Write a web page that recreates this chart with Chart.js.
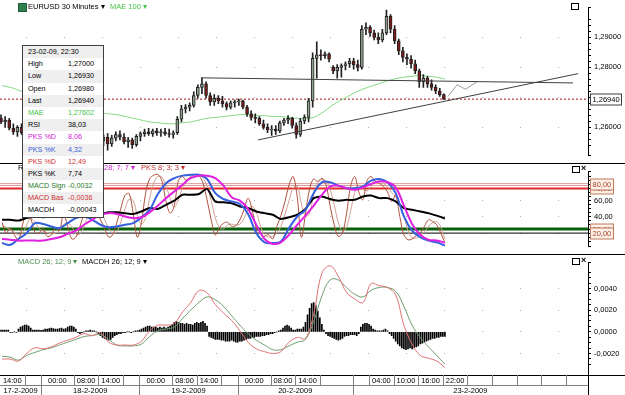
<!DOCTYPE html>
<html>
<head>
<meta charset="utf-8">
<title>EURUSD 30 Minutes</title>
<script src="https://cdn.jsdelivr.net/npm/chart.js@4.4.1/dist/chart.umd.min.js"></script>
<style>
  body { margin: 0; background: #fff; font-family: "Liberation Sans", Arial, sans-serif; font-size: 7.5px; color: #000; }
  #wrap { position: relative; width: 625px; height: 395px; overflow: hidden; }
  canvas { position: absolute; left: 0; }
  .lbl { position: absolute; white-space: nowrap; line-height: 10px; }
  .sep { position: absolute; left: 0; width: 625px; height: 1px; background: #000; }
  .box { position: absolute; width: 6px; height: 5px; border: 1px solid #000; background: #fff; }
  .x { position: absolute; font-size: 9px; line-height: 9px; font-weight: bold; }
  #info { position: absolute; left: 22px; top: 45px; width: 80px; border: 1px solid #404040; background: #fff; z-index: 5; font-size: 7.2px; }
  #info .row { height: 12.2px; line-height: 12.2px; padding-left: 5px; position: relative; white-space: nowrap; }
  #info .row:nth-child(odd) { background: #efefef; }
  #info .v { position: absolute; left: 45px; }
  #icon { position: absolute; left: 18px; top: 3px; width: 7px; height: 7px; background: #2f7f4f; border: 1px solid #1d5e35; }
</style>
</head>
<body>
<div id="wrap">
  <canvas id="c1" width="625" height="163" style="top:0"></canvas>
  <canvas id="c2" width="625" height="90" style="top:164px"></canvas>
  <canvas id="c3" width="625" height="140" style="top:255px"></canvas>

  <div class="sep" style="top:163px"></div>
  <div class="sep" style="top:254px"></div>

  <div id="icon"></div>
  <div class="lbl" style="left:28px;top:2px">EURUSD 30 Minutes &#9662;</div>
  <div class="lbl" style="left:110px;top:2px;color:#44c444">MAE 100 &#9662;</div>
  <div class="box" style="left:571px;top:3px"></div>

  <div class="lbl" style="left:18px;top:163px">RSI 14 &#9662;</div>
  <div class="lbl" style="left:104px;top:163px;color:#d020d0">28; 7; 7 &#9662;</div>
  <div class="lbl" style="left:141px;top:163px;color:#c03030">PKS 8; 3; 3 &#9662;</div>
  <div class="box" style="left:572px;top:166px"></div>
  <div class="x" style="left:581px;top:164px">&#215;</div>

  <div class="lbl" style="left:18px;top:257px;color:#4a8a4a">MACD 26; 12; 9 &#9662;</div>
  <div class="lbl" style="left:82px;top:257px">MACDH 26; 12; 9 &#9662;</div>
  <div class="box" style="left:572px;top:258px"></div>
  <div class="x" style="left:581px;top:256px">&#215;</div>

  <div id="info"></div>
</div>
<script>
const FONT = '"Liberation Sans", Arial, sans-serif';
const X_MAX = 286.8; // 588 px of plot, 2.05 px per 30 minute bar

// hourly candles from 17-2-2009 14:00 to 23-2-2009 22:00
const open = [
  1.2630, 1.2618, 1.2624, 1.2597, 1.2585, 1.2600, 1.2582, 1.2588, 1.2594, 1.2603,
  1.2591, 1.2579, 1.2585, 1.2597, 1.2588, 1.2579, 1.2570, 1.2576, 1.2588, 1.2582,
  1.2570, 1.2558, 1.2567, 1.2573, 1.2564, 1.2555, 1.2567, 1.2545, 1.2564, 1.2576,
  1.2567, 1.2552, 1.2558, 1.2542, 1.2570, 1.2579, 1.2585, 1.2579, 1.2588, 1.2582,
  1.2585, 1.2579, 1.2576, 1.2582, 1.2627, 1.2661, 1.2667, 1.2673, 1.2706, 1.2733,
  1.2745, 1.2706, 1.2685, 1.2697, 1.2688, 1.2679, 1.2667, 1.2682, 1.2685, 1.2688,
  1.2667, 1.2645, 1.2633, 1.2630, 1.2612, 1.2600, 1.2591, 1.2594, 1.2588, 1.2615,
  1.2624, 1.2630, 1.2606, 1.2576, 1.2621, 1.2633, 1.2688, 1.2830, 1.2842, 1.2839,
  1.2845, 1.2800, 1.2788, 1.2800, 1.2806, 1.2812, 1.2821, 1.2809, 1.2800, 1.2927,
  1.2933, 1.2915, 1.2900, 1.2891, 1.2915, 1.2970, 1.2927, 1.2888, 1.2855, 1.2833,
  1.2827, 1.2812, 1.2788, 1.2752, 1.2764, 1.2745, 1.2733, 1.2721, 1.2709
];
const high = [
  1.2642, 1.2636, 1.2630, 1.2612, 1.2606, 1.2612, 1.2597, 1.2606, 1.2612, 1.2615,
  1.2606, 1.2594, 1.2603, 1.2609, 1.2603, 1.2591, 1.2585, 1.2594, 1.2600, 1.2597,
  1.2582, 1.2576, 1.2582, 1.2585, 1.2579, 1.2576, 1.2579, 1.2573, 1.2585, 1.2588,
  1.2579, 1.2567, 1.2564, 1.2576, 1.2585, 1.2594, 1.2597, 1.2594, 1.2597, 1.2594,
  1.2597, 1.2594, 1.2588, 1.2636, 1.2673, 1.2676, 1.2682, 1.2718, 1.2742, 1.2764,
  1.2752, 1.2715, 1.2709, 1.2706, 1.2703, 1.2685, 1.2688, 1.2691, 1.2694, 1.2691,
  1.2673, 1.2655, 1.2645, 1.2636, 1.2624, 1.2612, 1.2606, 1.2606, 1.2621, 1.2630,
  1.2639, 1.2633, 1.2615, 1.2630, 1.2642, 1.2697, 1.2848, 1.2885, 1.2858, 1.2852,
  1.2848, 1.2806, 1.2809, 1.2812, 1.2818, 1.2830, 1.2830, 1.2824, 1.2939, 1.2948,
  1.2939, 1.2924, 1.2915, 1.2927, 1.2991, 1.2976, 1.2939, 1.2894, 1.2867, 1.2845,
  1.2839, 1.2824, 1.2794, 1.2776, 1.2770, 1.2758, 1.2742, 1.2730, 1.2712
];
const low = [
  1.2612, 1.2600, 1.2591, 1.2576, 1.2570, 1.2576, 1.2567, 1.2576, 1.2582, 1.2585,
  1.2573, 1.2564, 1.2576, 1.2582, 1.2573, 1.2558, 1.2555, 1.2567, 1.2573, 1.2564,
  1.2548, 1.2542, 1.2555, 1.2558, 1.2548, 1.2539, 1.2524, 1.2536, 1.2555, 1.2558,
  1.2545, 1.2533, 1.2530, 1.2536, 1.2555, 1.2570, 1.2573, 1.2570, 1.2573, 1.2570,
  1.2573, 1.2567, 1.2564, 1.2576, 1.2618, 1.2648, 1.2655, 1.2667, 1.2697, 1.2712,
  1.2697, 1.2673, 1.2673, 1.2679, 1.2667, 1.2658, 1.2661, 1.2667, 1.2673, 1.2661,
  1.2636, 1.2624, 1.2615, 1.2606, 1.2594, 1.2582, 1.2573, 1.2576, 1.2582, 1.2606,
  1.2612, 1.2597, 1.2564, 1.2570, 1.2612, 1.2618, 1.2667, 1.2764, 1.2824, 1.2830,
  1.2818, 1.2779, 1.2764, 1.2767, 1.2791, 1.2800, 1.2794, 1.2788, 1.2794, 1.2909,
  1.2903, 1.2891, 1.2879, 1.2885, 1.2909, 1.2915, 1.2879, 1.2842, 1.2818, 1.2809,
  1.2797, 1.2779, 1.2733, 1.2733, 1.2733, 1.2724, 1.2712, 1.2703, 1.2693
];
const close = [
  1.2618, 1.2624, 1.2597, 1.2585, 1.2600, 1.2582, 1.2588, 1.2594, 1.2603, 1.2591,
  1.2579, 1.2585, 1.2597, 1.2588, 1.2579, 1.2570, 1.2576, 1.2588, 1.2582, 1.2570,
  1.2558, 1.2567, 1.2573, 1.2564, 1.2555, 1.2567, 1.2545, 1.2564, 1.2576, 1.2567,
  1.2552, 1.2558, 1.2542, 1.2570, 1.2579, 1.2585, 1.2579, 1.2588, 1.2582, 1.2585,
  1.2579, 1.2576, 1.2582, 1.2627, 1.2661, 1.2667, 1.2673, 1.2706, 1.2733, 1.2745,
  1.2706, 1.2685, 1.2697, 1.2688, 1.2679, 1.2667, 1.2682, 1.2685, 1.2688, 1.2667,
  1.2645, 1.2633, 1.2630, 1.2612, 1.2600, 1.2591, 1.2594, 1.2588, 1.2615, 1.2624,
  1.2630, 1.2606, 1.2576, 1.2621, 1.2633, 1.2688, 1.2830, 1.2842, 1.2839, 1.2845,
  1.2827, 1.2788, 1.2800, 1.2806, 1.2812, 1.2821, 1.2809, 1.2800, 1.2927, 1.2933,
  1.2915, 1.2900, 1.2891, 1.2915, 1.2970, 1.2927, 1.2888, 1.2855, 1.2833, 1.2827,
  1.2812, 1.2788, 1.2752, 1.2764, 1.2745, 1.2733, 1.2721, 1.2709, 1.2694
];
const candleBar = open.map((_, k) => 2 * k + 0.5);

// smooth indicators, one sample every 2 hours
const maeValues = [
  1.2739, 1.2733, 1.2724, 1.2712, 1.2700, 1.2688, 1.2679, 1.2670, 1.2664, 1.2658,
  1.2655, 1.2652, 1.2648, 1.2645, 1.2642, 1.2636, 1.2630, 1.2624, 1.2618, 1.2615,
  1.2612, 1.2612, 1.2615, 1.2618, 1.2624, 1.2630, 1.2633, 1.2636, 1.2639, 1.2642,
  1.2642, 1.2639, 1.2639, 1.2636, 1.2636, 1.2633, 1.2630, 1.2630, 1.2633, 1.2648,
  1.2668, 1.2686, 1.2700, 1.2715, 1.2727, 1.2737, 1.2746, 1.2755, 1.2762, 1.2767,
  1.2770, 1.2773, 1.2770, 1.2767, 1.2761
];
const rsiValues = [
  36.4, 36.4, 35.4, 38.5, 40.5, 39.5, 42.6, 40.5, 44.6, 46.7,
  43.6, 45.6, 43.6, 45.6, 45.6, 44.6, 43.6, 46.7, 50.8, 49.7,
  54.9, 60.0, 67.2, 67.2, 68.2, 74.4, 59.0, 57.9, 56.9, 52.8,
  50.8, 46.7, 44.6, 42.6, 37.4, 39.5, 42.6, 49.7, 63.1, 65.1,
  62.0, 60.0, 61.0, 61.0, 65.1, 66.2, 63.1, 63.1, 59.0, 50.8,
  48.7, 46.7, 44.6, 41.5, 38.0
];
const pksSlowK = [
  7.7, 5.6, 12.8, 20.0, 32.3, 31.3, 28.2, 26.2, 32.3, 38.5,
  40.5, 36.4, 30.3, 27.2, 28.2, 30.3, 32.3, 39.5, 48.7, 68.2,
  81.5, 87.7, 90.8, 91.8, 91.8, 86.7, 69.2, 62.0, 59.0, 55.9,
  43.6, 20.0, 8.7, 7.7, 9.7, 26.2, 40.5, 48.7, 69.2, 82.6,
  82.6, 78.5, 75.4, 75.4, 77.4, 84.6, 86.7, 82.6, 69.2, 40.5,
  23.1, 14.9, 10.8, 8.7, 4.3
];
const pksSlowD = [
  12.8, 11.8, 10.8, 10.8, 10.8, 10.8, 12.8, 14.9, 19.0, 23.1,
  30.3, 36.4, 42.6, 44.6, 43.6, 40.5, 38.5, 39.5, 45.6, 53.8,
  63.1, 71.3, 79.5, 87.7, 90.8, 90.8, 87.7, 78.5, 64.1, 60.0,
  49.7, 30.3, 12.8, 6.7, 8.7, 17.9, 30.3, 41.5, 53.8, 67.2,
  77.4, 78.5, 75.4, 73.3, 76.4, 80.5, 83.6, 82.6, 76.4, 53.8,
  31.3, 17.9, 11.8, 10.8, 8.1
];
const macdMain = [
  -0.00252, -0.00252, -0.0027, -0.0020, -0.00148, -0.00157, -0.00139, -0.00104, -0.00078, -0.00052,
  -0.00017, -0.00035, -0.00009, -0.00096, -0.00122, -0.00122, -0.00122, -0.00087, 0.00009, 0.00061,
  0.00061, 0.00078, 0.00183, 0.0027, 0.0038, 0.0036, 0.00252, 0.00174, 0.00104, 0.00009,
  -0.00096, -0.00157, -0.00183, -0.0020, -0.00183, -0.00096, -0.00052, -0.00061, 0.00165, 0.0054,
  0.00609, 0.00513, 0.00365, 0.00305, 0.0027, 0.00444, 0.00426, 0.00409, 0.0034, 0.00061,
  -0.00113, -0.00218, -0.00244, -0.0027, -0.0033
];
const macdSignal = [
  -0.00226, -0.00235, -0.00261, -0.00218, -0.00191, -0.00165, -0.00148, -0.00122, -0.00096, -0.0007,
  -0.00044, -0.00035, -0.00026, -0.0007, -0.00122, -0.0013, -0.0013, -0.00113, -0.00044, 0.00009,
  0.00026, 0.00044, 0.00122, 0.0020, 0.0027, 0.00322, 0.00296, 0.00235, 0.00148, 0.00061,
  -0.00017, -0.00078, -0.00122, -0.00165, -0.00165, -0.0013, -0.00096, -0.0007, 0.00096, 0.0033,
  0.00479, 0.00479, 0.00409, 0.00348, 0.00322, 0.00383, 0.00409, 0.00409, 0.00374, 0.00235,
  0.00061, -0.00052, -0.00139, -0.00218, -0.0030
];
const slowBar = maeValues.map((_, j) => 4 * j + 1);

// fast stochastic, hourly
const pksFastK = [
  33.3, 20.0, 26.2, 17.9, 11.8, 30.3, 46.7, 38.5, 21.0, 20.0,
  26.2, 15.9, 17.9, 26.2, 23.1, 43.6, 28.2, 12.8, 14.9, 28.2,
  43.6, 53.8, 59.0, 48.7, 36.4, 26.2, 14.9, 17.9, 33.3, 50.8,
  66.7, 68.7, 43.6, 14.9, 33.3, 68.7, 87.2, 91.3, 92.3, 84.1,
  59.0, 44.6, 53.8, 84.6, 89.7, 84.6, 89.7, 91.8, 90.8, 81.5,
  61.0, 36.4, 17.9, 26.2, 32.3, 33.3, 28.2, 29.2, 36.4, 48.7,
  63.1, 48.7, 25.1, 12.8, 15.9, 17.9, 12.8, 28.2, 41.5, 59.0,
  79.5, 89.7, 64.1, 14.9, 43.6, 74.4, 86.7, 83.6, 87.7, 79.5,
  53.8, 30.3, 15.9, 20.0, 43.6, 77.4, 89.7, 70.8, 61.0, 84.6,
  89.7, 83.6, 81.5, 77.4, 70.8, 59.0, 66.7, 40.5, 17.9, 11.8,
  12.8, 16.9, 20.0, 28.2, 36.4, 34.4, 30.3, 20.0, 7.7
];
const pksFastD = [
  30, 27, 24, 21, 18, 20, 30, 38, 34, 26,
  22, 21, 19, 20, 23, 31, 32, 28, 19, 19,
  29, 42, 52, 54, 48, 37, 26, 20, 22, 34,
  50, 62, 60, 42, 31, 39, 63, 82, 90, 89,
  78, 63, 52, 61, 76, 86, 88, 89, 91, 88,
  78, 60, 39, 27, 25, 30, 31, 30, 31, 38,
  49, 53, 46, 29, 18, 15, 16, 20, 28, 43,
  60, 76, 78, 56, 41, 44, 68, 82, 86, 84,
  74, 55, 33, 22, 27, 47, 70, 79, 74, 72,
  78, 86, 85, 81, 77, 70, 65, 55, 42, 23,
  14, 14, 17, 22, 28, 33, 34, 28, 12.5
];
const fastBar = pksFastK.map((_, k) => 2 * k + 1);

// MACD histogram per 30 minute bar, in units of 0.00001
const macdHist = [
  17, 17, 17, 17, 17, -5, -5, 0, -5, 26, 43, 52, 61, 61, 52, 35,
  17, 17, 15, 17, 13, 17, 26, 26, 30, 35, 30, 26, 26, 30, 35, 26, 30,
  43, 52, 52, 43, 26, -9, -17, -9, 0, 9, 9, 17, 9, 9, 0,
  -17, -35, -52, -61, -70, -78, -70, -52, -35, -26, -17, -17, -9, -9, 0, 0,
  -9, 0, 9, 9, 17, 26, 35, 43, 52, 52, 43, 43, 43, 35, 43, 35, 43, 35, 43,
  52, 70, 87, 96, 87, 78, 78, 70, 78, 70, 70, 61, 78, 87, 78, 87, 96, 78, 52,
  -43, -52, -61, -70, -70, -70, -78, -78, -87, -87, -87, -78, -87, -96, -96, -87, -87, -78, -70,
  -61, -61, -52, -52, -43, -43, -43, -35, -35, -26, -26, -17, -17,
  -9, 0, 9, 17, 35, 52, 61, 52, 35, 17, 17, 26, 26, 26, 43, 87,
  157, 217, 261, 270, 243, 191, 130, 70, 17,
  -17, -35, -43, -52, -61, -70, -78, -70, -61, -43, -35, -35, -26, -26, -26, -35, -17,
  43, 70, 78, 78, 70, 52, 26, 17, 9, 9, 9, 17, 26, 9, -17, -35,
  -61, -87, -113, -130, -148, -157, -165, -157, -148, -157, -148,
  -139, -130, -113, -104, -96, -87, -78, -70, -61, -61, -52, -52, -43, -43, -43
];

// drawn lines on the price pane (bar index, price)
const trendFlatBars = [98, 279.5], trendFlatPrices = [1.2765, 1.2748];
const trendRiseBars = [125.9, 282], trendRisePrices = [1.2558, 1.2779];
const projBars = [218.5, 223, 227, 232.7], projPrices = [1.2703, 1.2742, 1.2727, 1.2752];
const lastPrice = 1.2694;
const oscLevels = [80, 75, 25, 20];

// time axis
const hourTickBars = [0, 12, 20, 36, 48, 60, 68, 84, 96, 108, 116, 132, 144, 156, 172, 180, 192, 204, 216, 228, 240, 252, 264, 276];
const hourTickLabels = ['14:00', '', '00:00', '08:00', '14:00', '', '00:00', '08:00', '14:00', '', '00:00', '08:00', '14:00', '', '', '04:00', '10:00', '16:00', '22:00', '', '', '', '', ''];
const dayBars = [0, 20, 68, 116, 172];
const dayLabels = ['17-2-2009', '18-2-2009', '19-2-2009', '20-2-2009', '23-2-2009'];

// data window
const infoLabels = ['High', 'Low', 'Open', 'Last', 'MAE', 'RSI', 'PKS %D', 'PKS %K', 'PKS %D', 'PKS %K', 'MACD Sign', 'MACD Bas', 'MACDH'];
const infoValues = ['1,27000', '1,26930', '1,26980', '1,26940', '1,27602', '38,03', '8,06', '4,32', '12,49', '7,74', '-0,0032', '-0,0036', '-0,00043'];
const infoColors = ['#000', '#000', '#000', '#000', '#44c444', '#000', '#d020d0', '#3a62d8', '#d03030', '#000', '#1f7a1f', '#d03030', '#000'];

document.getElementById('info').innerHTML =
  '<div class="row">23-02-09, 22:30</div>' +
  infoLabels.map((l, i) => `<div class="row" style="color:${infoColors[i]}">${l}<span class="v">${infoValues[i]}</span></div>`).join('');

const pts = (xs, ys) => xs.map((x, i) => ({ x, y: ys[i] }));

function line(xs, ys, color, width, extra) {
  return Object.assign({
    type: 'line', data: pts(xs, ys), borderColor: color, borderWidth: width,
    pointRadius: 0, tension: 0, fill: false
  }, extra);
}

function hLine(value, color, width, extra) {
  return line([0, X_MAX], [value, value], color, width, extra);
}

function xAxis() {
  return { type: 'linear', min: 0, max: X_MAX, display: false, offset: false };
}

function yAxis(min, max, step, labels, digits) {
  const isLabel = v => labels.some(l => Math.abs(l - v) < step / 10);
  return {
    position: 'right', min, max,
    afterFit: s => { s.width = 37; },
    ticks: {
      stepSize: step, autoSkip: false, padding: 3, color: '#000',
      font: { family: FONT, size: 7.5 },
      callback: v => isLabel(v) ? v.toFixed(digits).replace('.', ',') : ''
    },
    grid: {
      color: c => isLabel(c.tick.value) ? '#b0b0b0' : 'rgba(0,0,0,0)',
      tickColor: '#000', tickLength: 3, lineWidth: 1
    },
    border: { display: true, color: '#000', width: 1, dash: [1, 37], dashOffset: 12 }
  };
}

// boxed value tags on the right axis
const axisTags = {
  id: 'axisTags',
  afterDraw(chart, args, opts) {
    const { ctx, chartArea, scales: { y } } = chart;
    ctx.save();
    ctx.font = '7.5px ' + FONT;
    ctx.textBaseline = 'middle';
    for (const t of opts.tags || []) {
      const py = Math.round(y.getPixelForValue(t.value)) + 0.5;
      const w = Math.round(ctx.measureText(t.text).width) + 4;
      const x0 = chartArea.right + 2.5;
      ctx.fillStyle = t.fill;
      ctx.fillRect(x0, py - 5.5, w, 11);
      ctx.strokeStyle = t.stroke;
      ctx.lineWidth = 1;
      ctx.strokeRect(x0, py - 5.5, w, 11);
      ctx.fillStyle = t.color;
      ctx.fillText(t.text, x0 + 2, py + 0.5);
    }
    ctx.restore();
  }
};

// two-row time/date axis below the MACD pane
const timeAxis = {
  id: 'timeAxis',
  afterDraw(chart) {
    const { ctx, chartArea, scales: { x } } = chart;
    const top = chartArea.bottom, mid = top + 10, bot = top + 20;
    const px = v => Math.round(x.getPixelForValue(v)) + 0.5;
    const right = chartArea.right;
    ctx.save();
    ctx.lineWidth = 1;
    ctx.strokeStyle = '#000';
    ctx.beginPath();
    ctx.moveTo(0, top + 0.5); ctx.lineTo(625, top + 0.5);
    ctx.moveTo(right + 0.5, top); ctx.lineTo(right + 0.5, bot);
    ctx.stroke();
    ctx.strokeStyle = '#808080';
    ctx.beginPath();
    ctx.moveTo(0, mid + 0.5); ctx.lineTo(right, mid + 0.5);
    hourTickBars.forEach(b => { if (b > 0) { ctx.moveTo(px(b), top); ctx.lineTo(px(b), mid); } });
    dayBars.forEach(b => { if (b > 0) { ctx.moveTo(px(b), mid); ctx.lineTo(px(b), bot); } });
    ctx.stroke();
    ctx.font = '7.5px ' + FONT;
    ctx.fillStyle = '#000';
    ctx.textAlign = 'center';
    ctx.textBaseline = 'middle';
    hourTickBars.forEach((b, i) => {
      const end = i + 1 < hourTickBars.length ? hourTickBars[i + 1] : X_MAX;
      if (hourTickLabels[i]) ctx.fillText(hourTickLabels[i], (x.getPixelForValue(b) + x.getPixelForValue(end)) / 2, top + 5.5);
    });
    dayBars.forEach((b, i) => {
      const end = i + 1 < dayBars.length ? dayBars[i + 1] : X_MAX;
      ctx.fillText(dayLabels[i], (x.getPixelForValue(b) + x.getPixelForValue(end)) / 2, mid + 5.5);
    });
    ctx.restore();
  }
};

const baseOptions = () => ({
  responsive: false, animation: false, events: [],
  layout: { padding: 0, autoPadding: false },
  plugins: { legend: { display: false }, tooltip: { enabled: false } }
});

// ---- price pane
const upFill = '#8fa08f', downFill = '#801818';
const opts1 = baseOptions();
opts1.scales = { x: xAxis(), y: yAxis(1.2506, 1.29995, 0.002, [1.26, 1.27, 1.28, 1.29], 5) };
opts1.plugins.axisTags = { tags: [{ value: lastPrice, text: '1,26940', fill: '#fff', stroke: '#404040', color: '#000' }] };
new Chart(document.getElementById('c1'), {
  type: 'bar',
  data: {
    datasets: [
      hLine(lastPrice, '#a01010', 1, { borderDash: [2, 2], order: 6 }),
      line(slowBar, maeValues, '#80d880', 1, { tension: 0.4, order: 5 }),
      line(trendFlatBars, trendFlatPrices, '#404040', 1, { order: 0 }),
      line(trendRiseBars, trendRisePrices, '#404040', 1, { order: 0 }),
      line(projBars, projPrices, '#9a9a9a', 1, { order: 0 }),
      {
        type: 'bar', order: 2, grouped: false, barThickness: 1,
        data: candleBar.map((x, k) => ({ x, y: [low[k], high[k]] })),
        backgroundColor: '#202020'
      },
      {
        type: 'bar', order: 1, grouped: false, barThickness: 3,
        data: candleBar.map((x, k) => ({ x, y: [open[k], close[k]] })),
        backgroundColor: close.map((c, k) => c >= open[k] ? upFill : downFill),
        borderColor: '#202020', borderWidth: 1, borderSkipped: false
      }
    ]
  },
  options: opts1,
  plugins: [axisTags]
});

// ---- oscillator pane
const tagStyle = { fill: '#fcefe8', stroke: '#c07a5a', color: '#a84a28' };
const opts2 = baseOptions();
opts2.scales = { x: xAxis(), y: yAxis(3.5, 95.9, 5, [20, 40, 60, 80], 2) };
opts2.plugins.axisTags = {
  tags: [75, 25, 80, 20].map(v => Object.assign({ value: v, text: v.toFixed(2).replace('.', ',') }, tagStyle))
};
new Chart(document.getElementById('c2'), {
  type: 'line',
  data: {
    datasets: [
      hLine(oscLevels[0], '#dc9c9c', 3, { order: 12 }),
      hLine(oscLevels[0], '#ffffff', 1, { order: 11 }),
      hLine(oscLevels[1], '#e02828', 2, { order: 10 }),
      hLine(oscLevels[2], '#0b5f0b', 3, { order: 10 }),
      hLine(oscLevels[3], '#000000', 1, { order: 10 }),
      line(fastBar, pksFastD, '#d0a090', 1, { tension: 0.35, order: 6 }),
      line(fastBar, pksFastK, '#b0503c', 1, { tension: 0.35, order: 5 }),
      line(slowBar, rsiValues, '#000000', 2, { tension: 0.2, order: 3 }),
      line(slowBar, pksSlowK, '#3560e0', 2, { tension: 0.4, order: 2 }),
      line(slowBar, pksSlowD, '#e020e0', 2, { tension: 0.4, order: 1 })
    ]
  },
  options: opts2,
  plugins: [axisTags]
});

// ---- MACD pane
const opts3 = baseOptions();
opts3.layout.padding = { bottom: 20 };
opts3.scales = { x: xAxis(), y: yAxis(-0.00399, 0.0064, 0.0005, [-0.002, 0, 0.002, 0.004], 4) };
new Chart(document.getElementById('c3'), {
  type: 'bar',
  data: {
    datasets: [
      {
        type: 'bar', order: 3, grouped: false, barThickness: 1,
        data: macdHist.map((v, i) => ({ x: i, y: v / 100000 })),
        backgroundColor: '#000'
      },
      line(slowBar, macdSignal, '#6c9c6c', 1, { tension: 0.4, order: 2 }),
      line(slowBar, macdMain, '#e07070', 1, { tension: 0.4, order: 1 })
    ]
  },
  options: opts3,
  plugins: [timeAxis]
});
</script>
</body>
</html>
